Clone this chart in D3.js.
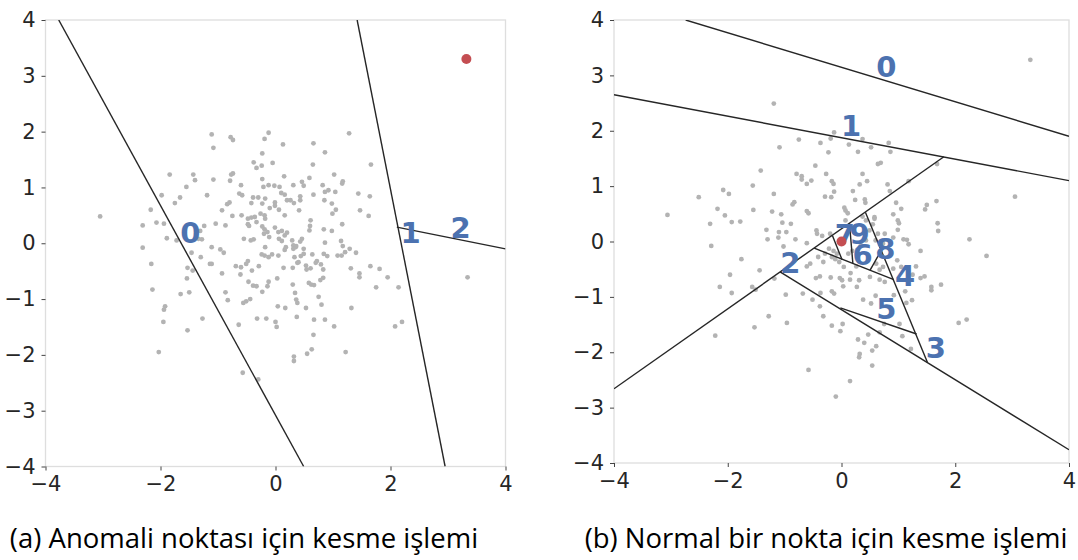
<!DOCTYPE html>
<html>
<head>
<meta charset="utf-8">
<script src="https://cdn.jsdelivr.net/npm/d3@7"></script>
<style>
  body { margin: 0; background: #fff; }
  svg { display: block; }
</style>
</head>
<body>
<svg id="chart" width="1078" height="560"></svg>
<script>
// scatter, left panel (a)
let leftPoints = [
  [-1.11,1.95],[-0.12,1.98],[1.28,1.97],[-0.78,1.90],[-0.74,1.85],[-0.19,1.87],[-1.08,1.71],[0.13,1.77],[0.66,1.79],[0.86,1.63],
  [-0.23,1.61],[-0.38,1.45],[-0.05,1.44],[-0.24,1.39],[-0.33,1.35],[0.65,1.41],[1.66,1.41],[-1.84,1.23],[-1.43,1.23],[-1.40,1.13],
  [-1.08,1.14],[-0.77,1.23],[-0.79,1.12],[-0.74,1.25],[-0.23,1.15],[0.15,1.20],[1.02,1.23],[1.17,1.11],[1.16,1.07],[0.59,1.17],
  [0.46,1.10],[0.49,1.03],[-1.55,1.01],[-0.60,1.04],[-0.21,1.01],[-0.12,1.04],[-0.02,1.03],[0.07,1.01],[0.31,1.04],[0.82,1.04],
  [0.92,0.95],[1.04,0.92],[1.44,0.89],[1.64,0.84],[-1.98,0.86],[-1.19,0.86],[-0.63,0.89],[-0.58,0.86],[-0.39,0.82],[-0.30,0.82],
  [-0.18,0.80],[0.10,0.90],[0.16,0.87],[0.20,0.77],[0.26,0.77],[0.43,0.84],[0.43,0.77],[0.66,0.87],[0.86,0.92],[0.85,0.77],
  [-1.75,0.72],[-1.66,0.82],[-0.84,0.70],[-0.80,0.73],[-0.42,0.72],[-0.23,0.71],[-0.01,0.73],[-0.01,0.67],[0.32,0.72],[0.98,0.71],
  [1.47,0.59],[1.62,0.49],[-2.17,0.60],[-0.93,0.59],[-0.10,0.63],[0.06,0.60],[0.16,0.50],[0.41,0.59],[1.05,0.60],[-2.07,0.37],
  [-1.94,0.35],[-2.31,0.32],[-2.31,-0.08],[-1.89,0.09],[-1.72,0.05],[-1.04,0.35],[-0.87,0.32],[-0.75,0.49],[-0.59,0.50],[-0.48,0.44],
  [-0.42,0.46],[-0.36,0.47],[-0.26,0.53],[-0.19,0.50],[-0.18,0.44],[-0.33,0.38],[-0.48,0.34],[-0.46,0.31],[-1.24,0.31],[-1.31,0.22],
  [-1.34,0.08],[-1.28,0.07],[-1.46,-0.17],[-1.30,-0.25],[-1.11,-0.07],[-1.11,-0.37],[-0.96,-0.11],[-0.90,-0.17],[-0.55,0.08],[-0.43,0.05],
  [-0.38,0.07],[-0.20,0.17],[-0.19,0.25],[-0.14,0.20],[-0.01,0.28],[0.05,0.20],[0.11,0.22],[0.16,0.14],[0.20,0.19],[0.06,0.08],
  [0.11,0.04],[-0.23,0.30],[-0.11,0.11],[0.29,0.05],[0.31,-0.04],[0.35,-0.07],[0.46,0.08],[0.43,0.03],[0.59,0.23],[0.60,0.31],
  [0.61,0.41],[0.84,0.25],[0.98,0.22],[1.16,0.34],[0.99,0.53],[0.86,0.01],[1.14,0.04],[1.17,-0.05],[1.21,-0.16],[-0.18,-0.07],
  [-0.24,-0.20],[-0.19,-0.22],[-0.12,-0.25],[-0.06,-0.20],[0.05,-0.22],[0.16,-0.12],[0.18,-0.07],[0.31,-0.10],[0.36,-0.05],[0.44,-0.23],
  [0.49,-0.19],[0.49,-0.10],[0.33,-0.25],[0.40,-0.34],[0.53,-0.40],[0.72,-0.32],[0.70,-0.35],[0.64,-0.20],[0.90,-0.23],[0.84,-0.19],
  [1.08,-0.22],[1.15,-0.22],[1.29,-0.10],[1.40,-0.17],[-2.16,-0.37],[-1.53,-0.44],[-1.44,-0.49],[-1.14,-0.37],[-0.69,-0.41],[-0.51,-0.37],
  [-0.60,-0.43],[-0.41,-0.49],[-0.29,-0.41],[-0.48,-0.32],[0.14,-0.44],[0.30,-0.44],[0.38,-0.35],[0.54,-0.47],[0.61,-0.45],[0.79,-0.38],
  [0.83,-0.47],[-1.54,-0.63],[-0.93,-0.54],[-0.61,-0.56],[-0.47,-0.69],[-0.39,-0.76],[-0.33,-0.77],[-0.12,-0.69],[-0.14,-0.77],[0.03,-0.63],
  [0.30,-0.74],[0.58,-0.71],[0.62,-0.74],[0.67,-0.75],[0.78,-0.66],[0.83,-0.62],[1.31,-0.45],[1.46,-0.54],[1.46,-0.61],[1.65,-0.41],
  [1.81,-0.46],[1.95,-0.61],[1.75,-0.79],[2.14,-0.79],[-2.14,-0.83],[-1.65,-0.91],[-1.50,-0.88],[-0.87,-0.88],[-0.23,-0.87],[0.34,-0.89],
  [0.36,-1.01],[0.38,-1.07],[0.75,-0.96],[0.80,-1.10],[1.32,-1.16],[-1.92,-1.13],[-1.94,-1.19],[-0.83,-1.02],[-0.56,-1.07],[-0.51,-1.04],
  [-0.44,-1.00],[0.04,-1.13],[0.17,-1.16],[0.53,-1.16],[-1.95,-1.41],[-1.53,-1.56],[-1.27,-1.35],[-0.64,-1.46],[-0.32,-1.35],[-0.16,-1.35],
  [0.00,-1.41],[0.02,-1.50],[0.37,-1.32],[0.67,-1.37],[0.86,-1.37],[1.02,-1.49],[2.08,-1.49],[2.20,-1.41],[-2.03,-1.95],[-0.57,-2.32],
  [-0.30,-2.44],[0.32,-2.03],[0.32,-2.11],[0.55,-1.98],[0.63,-1.90],[0.66,-1.64],[1.22,-1.95],[-3.05,0.48],[3.34,-0.61]
];

// scatter, right panel (b)
let rightPoints = [
  [-1.19,2.49],[3.32,3.28],[-0.13,1.97],[-0.19,1.86],[0.37,1.85],[-0.75,1.84],[-0.37,1.78],[-1.09,1.70],[0.13,1.75],[0.83,1.78],
  [0.52,1.70],[-0.23,1.61],[0.29,1.62],[0.86,1.62],[0.64,1.40],[0.69,1.42],[1.68,1.40],[-0.46,1.37],[-1.42,1.28],[-0.27,1.22],
  [0.37,1.22],[-0.79,1.22],[-0.70,1.18],[-0.70,1.12],[-0.53,1.10],[-0.61,1.04],[-0.17,1.09],[-0.14,1.04],[0.45,1.09],[0.32,1.03],
  [0.81,1.03],[1.18,1.09],[-1.56,1.01],[-2.08,0.93],[-1.98,0.86],[-1.19,0.86],[-0.13,0.90],[-0.18,0.80],[-0.29,0.81],[0.20,0.91],
  [0.24,0.75],[0.41,0.76],[0.42,0.70],[0.85,0.91],[-2.51,0.80],[-0.83,0.71],[-0.86,0.67],[0.96,0.70],[1.05,0.59],[1.47,0.58],
  [1.50,0.66],[1.67,0.73],[3.05,0.81],[-2.18,0.59],[-1.55,0.57],[-1.22,0.54],[-1.06,0.49],[-0.61,0.55],[-0.58,0.51],[0.05,0.61],
  [0.07,0.56],[0.11,0.51],[0.37,0.45],[0.58,0.44],[0.91,0.49],[-3.06,0.48],[-2.05,0.47],[-1.93,0.35],[-1.78,0.36],[-2.31,0.32],
  [-1.04,0.34],[-0.89,0.32],[-1.32,0.21],[-1.10,0.17],[-0.97,0.17],[-0.44,0.20],[-0.43,0.14],[-0.34,0.10],[-0.20,0.14],[0.99,0.38],
  [1.01,0.33],[1.69,0.33],[1.70,0.19],[0.76,0.14],[0.99,0.21],[1.09,0.04],[1.15,0.03],[1.18,-0.05],[2.25,0.04],[2.55,-0.26],
  [1.39,-0.17],[-2.29,-0.08],[-1.76,-0.32],[-1.30,0.04],[-1.11,0.07],[-0.81,0.04],[-0.61,-0.03],[-1.02,-0.09],[-1.44,-0.52],[-1.18,-0.67],
  [-1.96,-0.60],[-2.14,-0.82],[-1.93,-0.93],[-1.57,-0.82],[-1.51,-0.87],[-0.98,-0.96],[-0.96,-1.47],[-1.28,-1.35],[-1.53,-1.55],[-2.22,-1.70],
  [-0.58,-2.32],[-0.10,-2.80],[0.15,-2.52],[0.31,-2.09],[0.32,-2.03],[0.54,-2.24],[0.54,-1.97],[0.61,-1.89],[0.40,-1.83],[0.29,-1.77],
  [0.47,-1.68],[-0.02,-1.62],[-0.17,-1.52],[0.02,-1.49],[0.67,-1.64],[0.75,-1.49],[1.02,-1.49],[1.07,-1.71],[1.22,-1.94],[2.06,-1.47],
  [2.20,-1.41],[-0.32,-1.35],[-0.38,-1.17],[-0.51,-1.05],[-0.68,-0.94],[-0.37,-0.93],[-0.17,-0.90],[-0.13,-0.94],[0.03,-0.81],[0.31,-0.70],
  [0.27,-0.82],[0.38,-1.05],[0.52,-1.12],[0.60,-0.98],[0.92,-0.97],[1.12,-0.90],[1.14,-1.11],[1.24,-1.06],[1.58,-0.88],[1.58,-0.82],
  [1.75,-0.78],[1.46,-0.63],[1.39,-0.66],[1.31,-0.45],[1.25,-0.60],[-0.45,-0.66],[-0.38,-0.63],[-0.19,-0.65],[-0.03,-0.66],[0.01,-0.70],
  [0.16,-0.57],[0.15,-0.69],[0.50,-0.64],[0.67,-0.69],[0.76,-0.73],[0.67,-0.51],[0.61,-0.40],[0.73,-0.46],[0.91,-0.49],[0.04,-0.46],
  [0.26,-0.45],[-0.32,-0.37],[-0.41,-0.28],[-0.29,-0.22],[-0.17,-0.28],[-0.11,-0.32],[-0.04,-0.37],[-0.55,-0.40],[-0.61,-0.45],[-0.22,-0.13],
  [-0.14,-0.17],[-0.08,-0.22],[0.12,-0.22],[0.19,-0.17],[0.28,-0.15],[0.34,-0.07],[0.43,0.02],[0.60,0.02],[0.64,0.14],[0.49,0.20],
  [0.55,0.31],[0.43,0.38],[0.58,0.41],[0.07,0.38],[0.91,0.07],[0.73,-0.04],[0.87,-0.22],[0.98,-0.34],[1.05,-0.46]
];

let leftAnomaly = [3.32, 3.30];
let rightNormal = [0.0, 0.0];

// cuts as [x1, y1, x2, y2] in data units
let leftCuts = [
  [-3.77, 4, 0.49, -4],
  [1.42, 4, 2.95, -4],
  [2.11, 0.29, 4, -0.10]
];
let rightCuts = [
  [-2.74, 4, 4, 1.90],
  [-4, 2.65, 4, 1.10],
  [-4, -2.66, 1.80, 1.53],
  [-1.08, -0.55, 4, -3.76],
  [0.42, 0.53, 1.51, -2.18],
  [-0.48, -0.12, 0.92, -0.69],
  [-0.02, -1.20, 1.32, -1.67],
  [-0.16, 0.11, 0.01, -0.33],
  [0.50, -0.52, 0.70, -0.16],
  [0.14, 0.33, 0.20, -0.40]
];

let leftLabels = [
  ['0', -1.48, 0.19], ['1', 2.35, 0.19], ['2', 3.22, 0.28]
];
let rightLabels = [
  ['0', 0.79, 3.15], ['1', 0.17, 2.08], ['2', -0.90, -0.38], ['3', 1.66, -1.93],
  ['4', 1.12, -0.62], ['5', 0.79, -1.22], ['6', 0.37, -0.25], ['7', 0.06, 0.12],
  ['8', 0.77, -0.14], ['9', 0.32, 0.14]
];

let ticks = [-4, -3, -2, -1, 0, 1, 2, 3, 4];
let xTicks = [-4, -2, 0, 2, 4];
let captions = ['(a) Anomali noktası için kesme işlemi', '(b) Normal bir nokta için kesme işlemi'];

let svg = d3.select('#chart');

let drawPanel = (box, points, special, cuts, labels, caption, capX, id) => {
  let x = d3.scaleLinear().domain([-4, 4]).range([box.left, box.right]);
  let y = d3.scaleLinear().domain([-4, 4]).range([box.bottom, box.top]);

  svg.append('clipPath').attr('id', 'clip' + id).
  append('rect').
  attr('x', box.left).attr('y', box.top).
  attr('width', box.right - box.left).attr('height', box.bottom - box.top);

  // frame
  svg.append('rect').
  attr('x', box.left).attr('y', box.top).
  attr('width', box.right - box.left).attr('height', box.bottom - box.top).
  attr('fill', 'none').attr('stroke', '#dedede').attr('stroke-width', 1.3);

  let yAxis = svg.append('g').
  attr('transform', 'translate(' + box.left + ',0)').
  call(d3.axisLeft(y).tickValues(ticks).tickSize(4).tickPadding(6).tickFormat(d3.format('d')));
  let xAxis = svg.append('g').
  attr('transform', 'translate(0,' + box.bottom + ')').
  call(d3.axisBottom(x).tickValues(xTicks).tickSize(4).tickPadding(6).tickFormat(d3.format('d')));

  [xAxis, yAxis].forEach(ax => {
    ax.select('.domain').remove();
    ax.selectAll('line').attr('stroke', '#444').attr('stroke-width', 1);
    ax.selectAll('text').
    attr('fill', '#262626').
    style('font-family', 'DejaVu Sans').
    style('font-size', '21px');
  });

  let plot = svg.append('g').attr('clip-path', 'url(#clip' + id + ')');

  plot.selectAll('circle.pt').
  data(points).
  enter().
  append('circle').
  attr('class', 'pt').
  attr('cx', d => x(d[0])).
  attr('cy', d => y(d[1])).
  attr('r', 2.4).
  attr('fill', '#b3b3b3');

  plot.selectAll('line.cut').
  data(cuts).
  enter().
  append('line').
  attr('class', 'cut').
  attr('x1', d => x(d[0])).attr('y1', d => y(d[1])).
  attr('x2', d => x(d[2])).attr('y2', d => y(d[3])).
  attr('stroke', '#262626').
  attr('stroke-width', 1.4);

  plot.selectAll('text.lbl').
  data(labels).
  enter().
  append('text').
  attr('class', 'lbl').
  attr('x', d => x(d[1])).
  attr('y', d => y(d[2])).
  attr('text-anchor', 'middle').
  attr('dominant-baseline', 'central').
  attr('fill', '#4c72b0').
  style('font-family', 'DejaVu Sans').
  style('font-weight', 'bold').
  style('font-size', '29px').
  text(d => d[0]);

  plot.append('circle').
  attr('cx', x(special[0])).
  attr('cy', y(special[1])).
  attr('r', 5).
  attr('fill', '#c44e52');

  svg.append('text').
  attr('x', capX).
  attr('y', 548).
  attr('text-anchor', 'middle').
  attr('fill', '#000').
  style('font-family', 'Open Sans').
  style('font-size', '27.5px').
  text(caption);
};

drawPanel({ left: 45.5, right: 505.5, top: 20, bottom: 466.5 }, leftPoints, leftAnomaly, leftCuts, leftLabels, captions[0], 244, 'a');
drawPanel({ left: 614, right: 1069, top: 20, bottom: 463 }, rightPoints, rightNormal, rightCuts, rightLabels, captions[1], 826, 'b');
</script>
</body>
</html>
